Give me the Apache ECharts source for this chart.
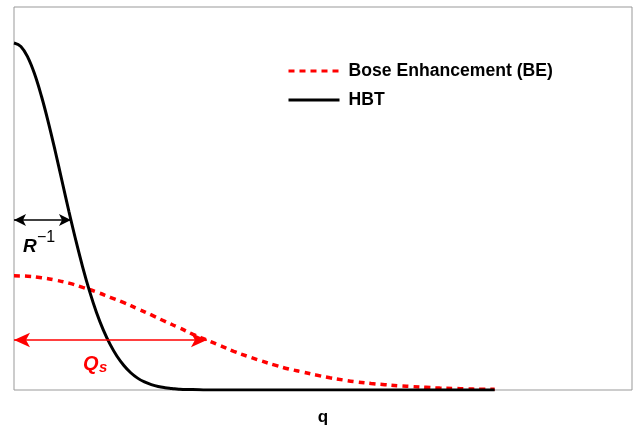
<!DOCTYPE html>
<html>
<head>
<meta charset="utf-8" />
<title>BE vs HBT</title>
<script src="https://cdn.jsdelivr.net/npm/echarts@6/dist/echarts.min.js"></script>
<style>
  * { margin: 0; padding: 0; }
  body { background: #fff; }
  #main { width: 635px; height: 426px; }
</style>
</head>
<body>
<div id="main"></div>
<script type="text/javascript">
// HBT curve, q samples (arbitrary units) and heights
var hbtQ = [0, 0.05, 0.1, 0.15, 0.2, 0.25, 0.3, 0.35, 0.4, 0.45, 0.5, 0.55, 0.6, 0.65, 0.7, 0.75,
  0.8, 0.85, 0.9, 0.95, 1.0, 1.05, 1.1, 1.15, 1.2, 1.25, 1.3, 1.4, 3.5];
var hbtValues = [0.906, 0.897, 0.869, 0.825, 0.767, 0.699, 0.624, 0.545, 0.466, 0.391, 0.321, 0.258,
  0.203, 0.157, 0.119, 0.088, 0.064, 0.045, 0.031, 0.021, 0.014, 0.009, 0.006, 0.004, 0.002, 0.001,
  0.001, 0, 0];
// Bose enhancement curve
var beQ = [0, 0.1, 0.2, 0.3, 0.4, 0.5, 0.6, 0.7, 0.8, 0.9, 1.0, 1.1, 1.2, 1.3, 1.4, 1.5, 1.6, 1.7,
  1.8, 1.9, 2.0, 2.1, 2.2, 2.3, 2.4, 2.5, 2.6, 2.7, 2.8, 2.9, 3.0, 3.1, 3.2, 3.3, 3.4, 3.5];
var beValues = [0.298, 0.297, 0.293, 0.287, 0.279, 0.268, 0.256, 0.242, 0.228, 0.212, 0.196, 0.179,
  0.163, 0.146, 0.131, 0.116, 0.101, 0.088, 0.076, 0.065, 0.055, 0.047, 0.039, 0.032, 0.026, 0.021,
  0.017, 0.014, 0.011, 0.009, 0.007, 0.005, 0.004, 0.003, 0.002, 0.002];
// widths marked by the arrows: [q start, q end, height]
var rArrow = [0, 0.415, 0.444];
var qsArrow = [0, 1.405, 0.1305];

function pairs(xs, ys) {
  var out = [];
  for (var i = 0; i < xs.length; i++) out.push([xs[i], ys[i]]);
  return out;
}

var chart = echarts.init(document.getElementById('main'));
var font = 'Liberation Sans, Arial, sans-serif';

var option = {
  animation: false,
  grid: {
    left: 14, right: 3, top: 7, bottom: 36, outerBoundsMode: 'none', containLabel: false,
    show: true, borderColor: '#999', borderWidth: 1
  },
  legend: {
    orient: 'vertical',
    left: 282,
    top: 57,
    itemWidth: 51,
    itemHeight: 14,
    itemGap: 11,
    itemStyle: { opacity: 0 },
    lineStyle: { width: 3 },
    textStyle: { fontFamily: font, fontWeight: 'bold', fontSize: 17.6, color: '#000', padding: [0, 0, 0, 4] },
    data: ['Bose Enhancement (BE)', 'HBT']
  },
  xAxis: {
    type: 'value', min: 0, max: 4.5,
    name: 'q', nameLocation: 'middle', nameGap: 19,
    nameTextStyle: { fontFamily: font, fontWeight: 'bold', fontSize: 17, color: '#000' },
    axisLine: { show: false }, axisTick: { show: false }, axisLabel: { show: false }, splitLine: { show: false }
  },
  yAxis: {
    type: 'value', min: 0, max: 1,
    axisLine: { show: false }, axisTick: { show: false }, axisLabel: { show: false }, splitLine: { show: false }
  },
  series: [
    {
      name: 'Bose Enhancement (BE)', type: 'line', smooth: true, symbol: 'none',
      data: pairs(beQ, beValues), z: 3,
      lineStyle: { color: '#ff0000', width: 3.5, type: [6, 5] },
      itemStyle: { color: '#ff0000' },
      markLine: {
        silent: true, symbol: ['arrow', 'arrow'], symbolSize: [11, 16],
        label: { show: false },
        lineStyle: { color: '#ff0000', width: 1.5, type: 'solid' },
        data: [[{ coord: [qsArrow[0], qsArrow[2]] }, { coord: [qsArrow[1], qsArrow[2]] }]]
      }
    },
    {
      name: 'HBT', type: 'line', smooth: 0.4, symbol: 'none',
      data: pairs(hbtQ, hbtValues), z: 4,
      lineStyle: { color: '#000', width: 3 },
      itemStyle: { color: '#000' },
      markLine: {
        silent: true, symbol: ['arrow', 'arrow'], symbolSize: [9, 12],
        label: { show: false },
        lineStyle: { color: '#000', width: 1.5, type: 'solid' },
        data: [[{ coord: [rArrow[0], rArrow[2]] }, { coord: [rArrow[1], rArrow[2]] }]]
      }
    }
  ],
  graphic: [
    { type: 'text', left: 23, top: 237, style: { text: 'R', fill: '#000', font: 'italic bold 19px ' + font } },
    { type: 'text', left: 37, top: 230, style: { text: '\u22121', fill: '#000', font: '16px ' + font } },
    { type: 'text', left: 83, top: 354, style: { text: 'Q', fill: '#ff0000', font: 'italic bold 20px ' + font } },
    { type: 'text', left: 99, top: 360, style: { text: 's', fill: '#ff0000', font: 'italic bold 15px ' + font } }
  ]
};

chart.setOption(option);
</script>
</body>
</html>
